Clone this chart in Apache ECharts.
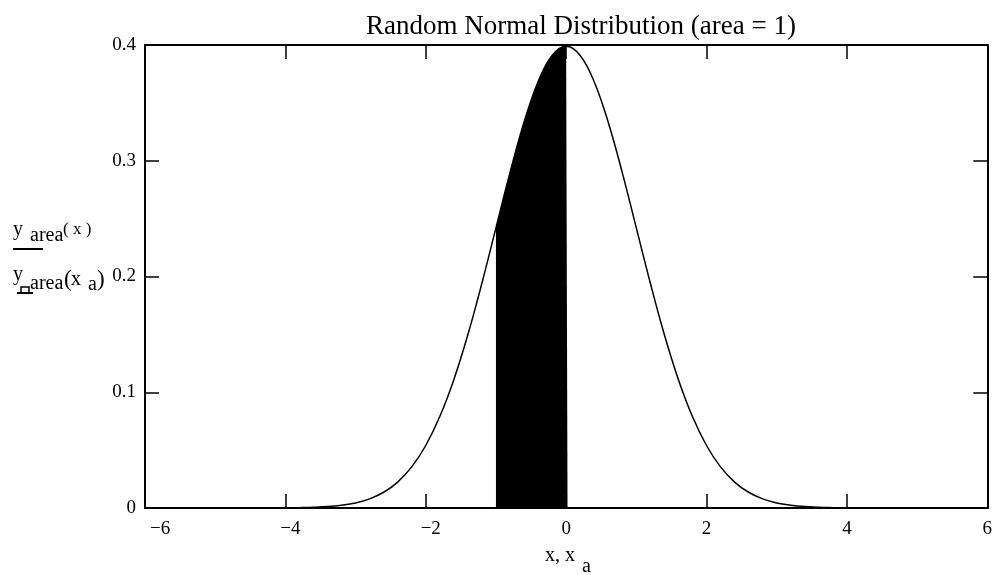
<!DOCTYPE html>
<html>
<head>
<meta charset="utf-8">
<script src="https://cdn.jsdelivr.net/npm/echarts@6/dist/echarts.min.js"></script>
<style>html,body{margin:0;padding:0;background:#fff}#c{width:995px;height:575px}</style>
</head>
<body>
<div id="c"></div>
<script>
// curve y_area(x)
const curveX = [-5,-4.8,-4.6,-4.4,-4.2,-4,-3.8,-3.6,-3.4,-3.2,-3,-2.8,-2.6,-2.4,-2.2,-2,-1.8,-1.6,-1.4,-1.2,-1,-0.8,-0.6,-0.4,-0.2,0,0.2,0.4,0.6,0.8,1,1.2,1.4,1.6,1.8,2,2.2,2.4,2.6,2.8,3,3.2,3.4,3.6,3.8,4,4.2,4.4,4.6,4.8,5];
const curveY = [0,0,0,0,0.0001,0.0001,0.0003,0.0006,0.0012,0.0024,0.0044,0.0079,0.0136,0.0224,0.0355,0.0540,0.0790,0.1109,0.1497,0.1942,0.2420,0.2897,0.3332,0.3683,0.3910,0.3989,0.3910,0.3683,0.3332,0.2897,0.2420,0.1942,0.1497,0.1109,0.0790,0.0540,0.0355,0.0224,0.0136,0.0079,0.0044,0.0024,0.0012,0.0006,0.0003,0.0001,0.0001,0,0,0,0];
// shaded area y_area(x_a)
const shadeX = [-1,-0.95,-0.9,-0.85,-0.8,-0.75,-0.7,-0.65,-0.6,-0.55,-0.5,-0.45,-0.4,-0.35,-0.3,-0.25,-0.2,-0.15,-0.1,-0.05,0,0.02];
const shadeY = [0.2420,0.2541,0.2661,0.2780,0.2897,0.3011,0.3123,0.3230,0.3332,0.3429,0.3521,0.3605,0.3683,0.3752,0.3814,0.3867,0.3910,0.3945,0.3970,0.3984,0.3989,0.3989];
const xTicks = [-6,-4,-2,0,2,4,6];
const yTicks = [0,0.1,0.2,0.3,0.4];
const titleText = 'Random Normal Distribution (area = 1)';

const FONT = '"Liberation Serif","Times New Roman",serif';
const chart = echarts.init(document.getElementById('c'));
const fmtX = v => (v === xTicks[0] ? '{m|\u2212' + Math.abs(v) + '}' : v < 0 ? '{n|\u2212' + Math.abs(v) + '}' : '{p|' + v + '}');
const fmtY = v => (v === 0 ? '0' : String(Math.round(v*10)/10));
const axisLine = {show:true, onZero:false, lineStyle:{color:'#000', width:2}};
const tick = {show:true, inside:true, length:14, lineStyle:{color:'#000', width:1.5}};
const lblStyle = {fontFamily:FONT, fontSize:19, color:'#000'};
chart.setOption({
  animation:false,
  backgroundColor:'#fff',
  title:{text:titleText, left:576, top:8, textAlign:'center',
    textStyle:{fontFamily:FONT, fontSize:27, fontWeight:'normal', color:'#000'}},
  grid:{left:145, right:7, top:45, bottom:67},
  xAxis:[
    {type:'value', min:-6, max:6, interval:2, position:'bottom',
     axisLine:axisLine, axisTick:tick, splitLine:{show:false},
     axisLabel:{formatter:fmtX, margin:12, alignMinLabel:'left',
       rich:{m:Object.assign({padding:[0,0,0,5]}, lblStyle), n:Object.assign({padding:[0,0,0,10]}, lblStyle), p:Object.assign({}, lblStyle)}}},
    {type:'value', min:-6, max:6, interval:2, position:'top',
     axisLine:axisLine, axisTick:tick, splitLine:{show:false}, axisLabel:{show:false}}
  ],
  yAxis:[
    {type:'value', min:0, max:0.4, interval:0.1, position:'left',
     axisLine:axisLine, axisTick:tick, splitLine:{show:false},
     axisLabel:Object.assign({formatter:fmtY, margin:9}, lblStyle)},
    {type:'value', min:0, max:0.4, interval:0.1, position:'right',
     axisLine:axisLine, axisTick:tick, splitLine:{show:false}, axisLabel:{show:false}}
  ],
  series:[
    {type:'line', data:shadeX.map((x,i)=>[x,shadeY[i]]), showSymbol:false,
     lineStyle:{width:0}, areaStyle:{color:'#000', opacity:1}, z:2},
    {type:'line', data:curveX.map((x,i)=>[x,curveY[i]]), smooth:0.4, showSymbol:false,
     lineStyle:{color:'#000', width:1.5}, z:3}
  ],
  graphic:[
    {type:'text', style:{x:13, y:230, text:'y', font:'20px '+FONT, fill:'#000', verticalAlign:'middle'}},
    {type:'text', style:{x:30, y:236, text:'area', font:'20px '+FONT, fill:'#000', verticalAlign:'middle'}},
    {type:'text', style:{x:63, y:230, text:'( x )', font:'17px '+FONT, fill:'#000', verticalAlign:'middle'}},
    {type:'line', shape:{x1:13, y1:249, x2:43, y2:249}, style:{stroke:'#000', lineWidth:2}},
    {type:'text', style:{x:13, y:275, text:'y', font:'20px '+FONT, fill:'#000', verticalAlign:'middle'}},
    {type:'text', style:{x:30, y:284, text:'area', font:'20px '+FONT, fill:'#000', verticalAlign:'middle'}},
    {type:'text', style:{x:64, y:280, text:'(', font:'23px '+FONT, fill:'#000', verticalAlign:'middle'}},
    {type:'text', style:{x:71, y:280, text:'x', font:'20px '+FONT, fill:'#000', verticalAlign:'middle'}},
    {type:'text', style:{x:88, y:285, text:'a', font:'20px '+FONT, fill:'#000', verticalAlign:'middle'}},
    {type:'text', style:{x:97, y:280, text:')', font:'23px '+FONT, fill:'#000', verticalAlign:'middle'}},
    {type:'polyline', shape:{points:[[17,293],[33,293]]}, style:{stroke:'#000', lineWidth:2, fill:null}},
    {type:'polyline', shape:{points:[[21,293],[21,287],[29,287],[29,293]]}, style:{stroke:'#000', lineWidth:1.5, fill:null}},
    {type:'text', style:{x:545, y:556, text:'x, x', font:'20px '+FONT, fill:'#000', verticalAlign:'middle'}},
    {type:'text', style:{x:582, y:567, text:'a', font:'20px '+FONT, fill:'#000', verticalAlign:'middle'}}
  ]
});
</script>
</body>
</html>
